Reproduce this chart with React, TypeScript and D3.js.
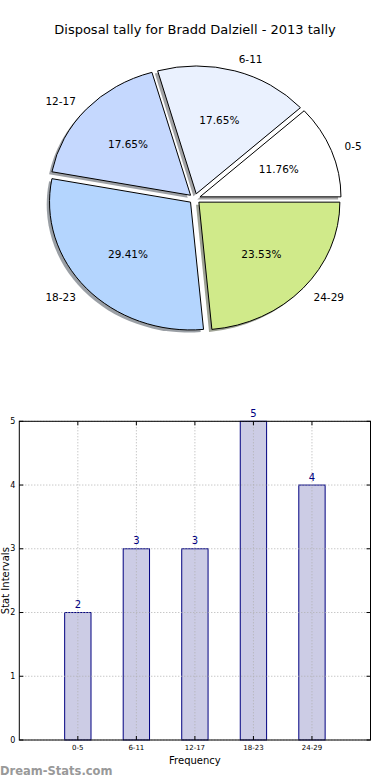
import React from "react";
import * as d3 from "d3";

const categories = ["0-5", "6-11", "12-17", "18-23", "24-29"];
const tallies = [2, 3, 3, 5, 4];
const sliceColors = ["#FFFFFF", "#EAF1FE", "#C5D8FE", "#B4D5FE", "#D0EA8A"];
const yTicks = [0, 1, 2, 3, 4, 5];
const title = "Disposal tally for Bradd Dalziell - 2013 tally";

const W = 390;
const H = 780;
const FONT = "'DejaVu Sans', sans-serif";

function shadowColor(c: string) {
  const rgb = d3.rgb(c);
  return d3.rgb(rgb.r * 0.3, rgb.g * 0.3, rgb.b * 0.3).toString();
}

function Pie() {
  const cx = 194.7;
  const cy = 198.7;
  const rx = 141;
  const ry = 127.8;
  const f = 0.04;
  const R = 100;
  const total = d3.sum(tallies);
  const pie = d3
    .pie<number>()
    .sort(null)
    .value((d) => d)
    .startAngle(Math.PI / 2)
    .endAngle(Math.PI / 2 - 2 * Math.PI);
  const arcs = pie(tallies);
  const arc = d3.arc<d3.PieArcDatum<number>>().innerRadius(0).outerRadius(R);
  const items = arcs.map((a, i) => {
    const mid = (a.startAngle + a.endAngle) / 2;
    const dx = Math.sin(mid);
    const dy = -Math.cos(mid);
    const ox = cx + f * rx * dx;
    const oy = cy + f * ry * dy;
    return { a, i, dx, dy, ox, oy };
  });
  const sx = rx / R;
  const sy = ry / R;
  return (
    <g>
      <text x={W / 2} y={34} textAnchor="middle" fontSize={13} fontFamily={FONT} fill="#000">
        {title}
      </text>
      {items.map(({ a, i, ox, oy }) => (
        <path
          key={"s" + i}
          d={arc(a) || ""}
          transform={`translate(${ox - 0.02 * rx},${oy + 0.02 * ry}) scale(${sx},${sy})`}
          fill={shadowColor(sliceColors[i])}
          fillOpacity={0.5}
          stroke="none"
        />
      ))}
      {items.map(({ a, i, ox, oy }) => (
        <path
          key={"w" + i}
          d={arc(a) || ""}
          transform={`translate(${ox},${oy}) scale(${sx},${sy})`}
          fill={sliceColors[i]}
          stroke="#000"
          strokeWidth={1}
          vectorEffect="non-scaling-stroke"
          strokeLinejoin="round"
        />
      ))}
      {items.map(({ i, dx, dy, ox, oy }) => {
        const lx = ox + 1.1 * rx * dx;
        const ly = oy + 1.1 * ry * dy;
        const px = ox + 0.6 * rx * dx;
        const py = oy + 0.6 * ry * dy;
        const pct = ((tallies[i] / total) * 100).toFixed(2) + "%";
        return (
          <g key={"l" + i}>
            <text
              x={lx}
              y={ly}
              textAnchor={dx > 0 ? "start" : "end"}
              dominantBaseline="central"
              fontSize={10.5}
              fontFamily={FONT}
              fill="#000"
            >
              {categories[i]}
            </text>
            <text
              x={px}
              y={py}
              textAnchor="middle"
              dominantBaseline="central"
              fontSize={10.5}
              fontFamily={FONT}
              fill="#000"
            >
              {pct}
            </text>
          </g>
        );
      })}
    </g>
  );
}

function Bars() {
  const left = 19.3;
  const right = 370.5;
  const top = 421.3;
  const bottom = 740;
  const x = d3.scaleLinear().domain([-1, categories.length]).range([left, right]);
  const y = d3.scaleLinear().domain([0, 5]).range([bottom, top]);
  const bw = 0.45;
  const grid = "#b0b0b0";
  return (
    <g>
      {tallies.map((v, i) => (
        <rect
          key={"b" + i}
          x={x(i - bw / 2)}
          y={y(v)}
          width={x(i + bw / 2) - x(i - bw / 2)}
          height={y(0) - y(v)}
          fill="#CCCCE5"
          stroke="#000080"
          strokeWidth={1}
        />
      ))}
      {yTicks.map((t) => (
        <line
          key={"gy" + t}
          x1={left}
          x2={right}
          y1={y(t)}
          y2={y(t)}
          stroke={grid}
          strokeWidth={1}
          strokeDasharray="1,2"
        />
      ))}
      {categories.map((c, i) => (
        <line
          key={"gx" + i}
          x1={x(i)}
          x2={x(i)}
          y1={top}
          y2={bottom}
          stroke={grid}
          strokeWidth={1}
          strokeDasharray="1,2"
        />
      ))}
      {yTicks.map((t) => (
        <g key={"ty" + t}>
          <line x1={left} x2={left + 4} y1={y(t)} y2={y(t)} stroke="#000" strokeWidth={1} />
          <line x1={right - 4} x2={right} y1={y(t)} y2={y(t)} stroke="#000" strokeWidth={1} />
          <text
            x={left - 4}
            y={y(t)}
            textAnchor="end"
            dominantBaseline="central"
            fontSize={8}
            fontFamily={FONT}
            fill="#000"
          >
            {t}
          </text>
        </g>
      ))}
      {categories.map((c, i) => (
        <g key={"tx" + i}>
          <line x1={x(i)} x2={x(i)} y1={bottom} y2={bottom - 4} stroke="#000" strokeWidth={1} />
          <line x1={x(i)} x2={x(i)} y1={top} y2={top + 4} stroke="#000" strokeWidth={1} />
          <text
            x={x(i)}
            y={748}
            textAnchor="middle"
            dominantBaseline="central"
            fontSize={7}
            fontFamily={FONT}
            fill="#000"
          >
            {c}
          </text>
        </g>
      ))}
      {tallies.map((v, i) => (
        <text
          key={"v" + i}
          x={x(i)}
          y={y(v) - 4.5}
          textAnchor="middle"
          fontSize={10}
          fontFamily={FONT}
          fill="#000080"
        >
          {v}
        </text>
      ))}
      <rect x={left} y={top} width={right - left} height={bottom - top} fill="none" stroke="#000" strokeWidth={1} />
      <text x={(left + right) / 2} y={764} textAnchor="middle" fontSize={10} fontFamily={FONT} fill="#000">
        Frequency
      </text>
      <text
        transform={`translate(9,${(top + bottom) / 2}) rotate(-90)`}
        textAnchor="middle"
        fontSize={10}
        fontFamily={FONT}
        fill="#000"
      >
        Stat Intervals
      </text>
      <text x={0} y={775} fontSize={11.5} fontWeight="bold" fontFamily={FONT} fill="#999999">
        Dream-Stats.com
      </text>
    </g>
  );
}

export default function App() {
  return (
    <svg
      width={W}
      height={H}
      viewBox={`0 0 ${W} ${H}`}
      style={{ position: "absolute", left: 0, top: 0, background: "#fff" }}
    >
      <rect x={0} y={0} width={W} height={H} fill="#fff" />
      <Pie />
      <Bars />
    </svg>
  );
}
